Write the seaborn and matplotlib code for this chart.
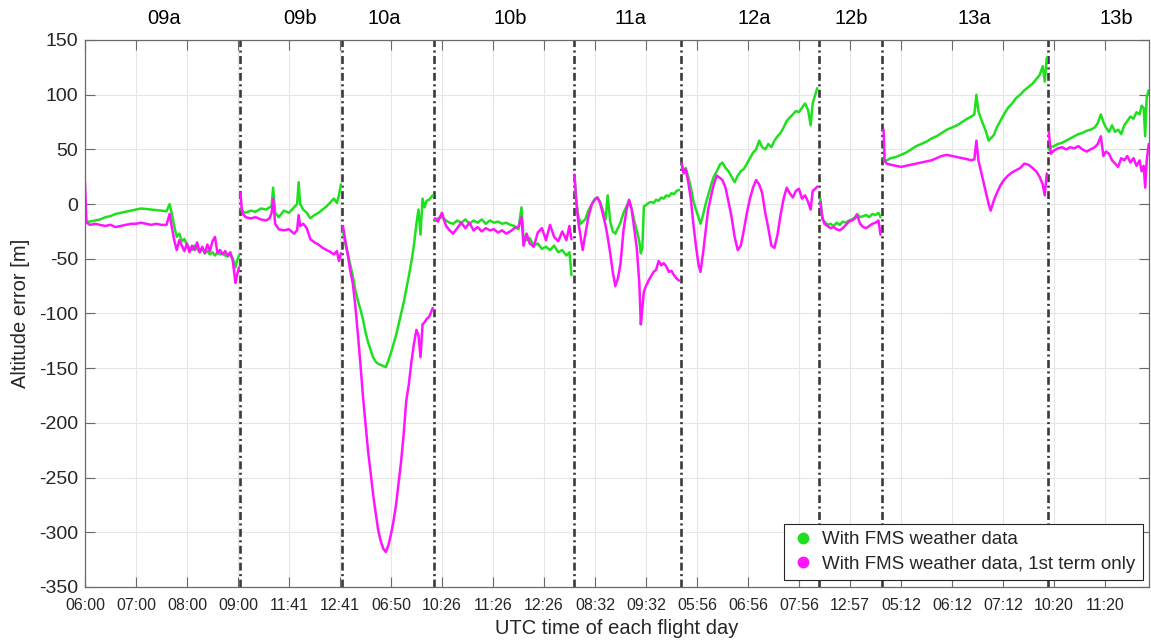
import numpy as np
import pandas as pd
import matplotlib
matplotlib.use("Agg")
import matplotlib.pyplot as plt
from matplotlib.lines import Line2D
from matplotlib.transforms import blended_transform_factory
import seaborn as sns

# ---------------------------------------------------------------------------
# Data: elapsed flight hours (all flight days concatenated) and altitude error
# ---------------------------------------------------------------------------
flight_names = ["09a", "09b", "10a", "10b", "11a", "12a", "12b", "13a", "13b"]
flight_edges = [3.04, 5.04, 6.84, 9.58, 11.69, 14.40, 15.63, 18.88]
tick_labels = ["06:00", "07:00", "08:00", "09:00", "11:41", "12:41", "06:50",
               "10:26", "11:26", "12:26", "08:32", "09:32", "05:56", "06:56",
               "07:56", "12:57", "05:12", "06:12", "07:12", "10:20", "11:20"]
series_names = ["With FMS weather data", "With FMS weather data, 1st term only"]

t_09a = [0.00, 0.03, 0.10, 0.20, 0.30, 0.40, 0.50, 0.60, 0.70, 0.80, 0.90, 1.00,
         1.10, 1.20, 1.30, 1.40, 1.50, 1.60, 1.66, 1.70, 1.75, 1.80, 1.85, 1.90,
         1.95, 2.00, 2.05, 2.10, 2.15, 2.20, 2.25, 2.30, 2.35, 2.40, 2.45, 2.50,
         2.55, 2.60, 2.65, 2.70, 2.75, 2.80, 2.85, 2.90, 2.95, 2.98, 3.02]
g_09a = [-17, -16, -16, -15, -14, -12, -11, -9, -8, -7, -6, -5,
         -4, -4.5, -5, -5.5, -6, -6.5, 0, -8, -20, -30, -27, -34,
         -32, -37, -40, -42, -38, -41, -44, -40, -45, -43, -46, -44,
         -47, -44, -46, -45, -47, -48, -46, -50, -58, -52, -47]
m_09a = [20, -17, -19, -18, -19, -20, -19, -21, -20, -19, -18, -18,
         -17, -18, -19, -18, -19, -19, -9, -20, -33, -42, -33, -38,
         -43, -36, -44, -38, -42, -35, -44, -39, -45, -37, -43, -34,
         -30, -45, -42, -46, -43, -47, -44, -52, -72, -65, -58]

t_09b = [3.05, 3.08, 3.15, 3.25, 3.35, 3.45, 3.55, 3.62, 3.66, 3.69, 3.73, 3.80,
         3.90, 4.00, 4.10, 4.16, 4.19, 4.22, 4.28, 4.35, 4.42, 4.50, 4.58, 4.66,
         4.74, 4.82, 4.88, 4.94, 4.98, 5.02]
g_09b = [-4, -6, -8, -6, -7, -4, -5, -3, -2, 15, -8, -12,
         -6, -8, -3, 0, 20, 0, -5, -8, -13, -10, -8, -5,
         -2, 2, 5, 1, 8, 18]
m_09b = [10, -8, -12, -13, -12, -14, -15, -13, -8, 5, -18, -23,
         -24, -23, -27, -24, -10, -20, -18, -22, -32, -35, -37, -40,
         -42, -44, -46, -43, -52, -45]

t_10a = [5.06, 5.10, 5.15, 5.20, 5.25, 5.30, 5.35, 5.40, 5.45, 5.50, 5.55, 5.60,
         5.65, 5.70, 5.75, 5.80, 5.85, 5.90, 5.95, 6.00, 6.05, 6.10, 6.15, 6.20,
         6.25, 6.30, 6.35, 6.40, 6.45, 6.50, 6.54, 6.58, 6.62, 6.66, 6.70, 6.75,
         6.82]
g_10a = [-25, -35, -45, -55, -65, -78, -88, -96, -105, -117, -126, -133,
         -140, -144, -146, -147, -148, -149, -143, -136, -128, -120, -110, -100,
         -90, -78, -66, -53, -38, -18, -5, -28, 5, -3, 3, 4,
         8]
m_10a = [-20, -32, -45, -60, -72, -92, -118, -145, -175, -200, -225, -245,
         -265, -282, -298, -308, -315, -318, -312, -302, -290, -275, -255, -235,
         -210, -180, -165, -145, -128, -115, -120, -140, -110, -108, -105, -103,
         -95]

t_10b = [6.86, 6.92, 7.00, 7.08, 7.15, 7.22, 7.30, 7.38, 7.46, 7.54, 7.62, 7.70,
         7.78, 7.86, 7.94, 8.02, 8.10, 8.18, 8.26, 8.34, 8.42, 8.50, 8.56, 8.60,
         8.66, 8.72, 8.80, 8.88, 8.96, 9.04, 9.12, 9.20, 9.28, 9.36, 9.44, 9.50,
         9.54]
g_10b = [-15, -13, -12, -15, -17, -18, -15, -17, -14, -18, -15, -17,
         -14, -18, -15, -17, -16, -18, -17, -19, -20, -23, -3, -30,
         -33, -31, -38, -36, -41, -39, -42, -38, -44, -42, -47, -44,
         -65]
m_10b = [-13, -16, -8, -20, -24, -27, -22, -17, -22, -17, -24, -21,
         -25, -22, -24, -23, -26, -24, -27, -25, -22, -21, -12, -38,
         -27, -36, -39, -26, -22, -33, -19, -30, -34, -25, -33, -20,
         -32]

t_11a = [9.60, 9.63, 9.67, 9.72, 9.76, 9.81, 9.87, 9.94, 10.00, 10.05, 10.10, 10.15,
         10.21, 10.25, 10.30, 10.35, 10.40, 10.45, 10.50, 10.56, 10.62, 10.67, 10.72,
         10.77, 10.82, 10.87, 10.90, 10.93, 10.96, 11.00, 11.05, 11.10, 11.15, 11.20,
         11.25, 11.30, 11.35, 11.40, 11.45, 11.50, 11.55, 11.60, 11.65]
g_11a = [25, 5, -10, -18, -16, -14, -6, 0, 5, 6, 2, -5,
         -14, 8, -16, -25, -27, -22, -17, -8, -2, 3, -4,
         -15, -24, -34, -45, -40, -2, -1, 1, 2, 1, 4,
         3, 6, 5, 8, 7, 10, 9, 12, 13]
m_11a = [27, 5, -15, -30, -42, -28, -12, 0, 4, 6, 1, -8,
         -20, -30, -45, -62, -75, -68, -55, -24, -5, 4, -5,
         -22, -40, -72, -110, -95, -80, -75, -70, -66, -62, -60,
         -52, -56, -54, -57, -62, -61, -65, -68, -70]

t_12a = [11.70, 11.74, 11.78, 11.83, 11.88, 11.93, 11.98, 12.03, 12.07, 12.12, 12.17,
         12.22, 12.28, 12.33, 12.39, 12.45, 12.50, 12.56, 12.62, 12.68, 12.74, 12.80,
         12.86, 12.92, 12.98, 13.04, 13.10, 13.16, 13.22, 13.28, 13.34, 13.40, 13.46,
         13.52, 13.58, 13.64, 13.70, 13.76, 13.82, 13.88, 13.94, 14.00, 14.06, 14.12,
         14.18, 14.23, 14.27, 14.32, 14.36]
g_12a = [37, 30, 33, 25, 15, 3, -5, -12, -18, -10, 0,
         8, 18, 25, 30, 36, 38, 33, 30, 25, 20, 26,
         30, 32, 37, 42, 47, 50, 58, 52, 50, 55, 52,
         58, 62, 65, 70, 76, 79, 82, 85, 84, 88, 92,
         86, 72, 92, 100, 106]
m_12a = [37, 28, 32, 20, 5, -18, -38, -55, -62, -45, -25,
         -5, 8, 18, 26, 24, 22, 15, 2, -12, -30, -42,
         -38, -24, -8, 5, 15, 22, 18, 10, -8, -22, -38,
         -40, -28, -10, 5, 15, 10, 6, 12, 14, 5, 8,
         2, -5, 12, 14, 16]

t_12b = [14.42, 14.46, 14.50, 14.56, 14.62, 14.68, 14.74, 14.80, 14.86, 14.92, 14.98,
         15.04, 15.10, 15.14, 15.20, 15.26, 15.32, 15.38, 15.44, 15.50, 15.56, 15.60]
g_12b = [5, -14, -16, -19, -18, -20, -17, -19, -16, -17, -15,
         -14, -12, -9, -12, -11, -10, -12, -9, -10, -8, -12]
m_12b = [2, -12, -18, -20, -22, -21, -23, -24, -22, -19, -16,
         -15, -13, -10, -18, -21, -22, -20, -18, -17, -15, -28]

t_13a = [15.66, 15.68, 15.72, 15.80, 15.90, 16.00, 16.10, 16.20, 16.30, 16.40, 16.50,
         16.60, 16.70, 16.80, 16.90, 17.00, 17.10, 17.20, 17.30, 17.38, 17.44, 17.48,
         17.52, 17.57, 17.62, 17.67, 17.72, 17.76, 17.82, 17.88, 17.95, 18.02, 18.10,
         18.18, 18.26, 18.34, 18.42, 18.50, 18.58, 18.65, 18.72, 18.78, 18.82, 18.86]
g_13a = [42, 39, 40, 42, 43, 45, 47, 50, 53, 55, 57,
         60, 62, 65, 68, 70, 72, 75, 78, 80, 82, 100,
         85, 78, 72, 66, 58, 60, 63, 70, 76, 82, 88,
         92, 97, 100, 104, 107, 110, 114, 118, 126, 112, 134]
m_13a = [68, 40, 37, 36, 35, 34, 35, 36, 37, 38, 39,
         40, 42, 44, 45, 44, 43, 42, 41, 40, 41, 58,
         40, 30, 20, 10, 0, -6, 3, 10, 17, 22, 26,
         29, 31, 33, 37, 36, 33, 30, 25, 18, 8, 28]

t_13b = [18.90, 18.94, 19.00, 19.08, 19.16, 19.24, 19.32, 19.40, 19.48, 19.56, 19.64,
         19.72, 19.80, 19.86, 19.92, 19.97, 20.02, 20.08, 20.14, 20.20, 20.26, 20.32,
         20.38, 20.44, 20.50, 20.56, 20.62, 20.68, 20.72, 20.76, 20.79, 20.82, 20.86]
g_13b = [50, 52, 53, 55, 56, 58, 60, 62, 64, 65, 67,
         68, 70, 74, 82, 75, 70, 66, 72, 66, 68, 64,
         72, 76, 80, 78, 84, 82, 90, 88, 62, 98, 104]
m_13b = [66, 46, 49, 51, 52, 50, 52, 51, 53, 50, 48,
         50, 52, 55, 62, 44, 48, 46, 40, 37, 34, 42,
         40, 44, 38, 42, 35, 40, 30, 35, 15, 40, 55]

flights = {
    "09a": (t_09a, g_09a, m_09a), "09b": (t_09b, g_09b, m_09b),
    "10a": (t_10a, g_10a, m_10a), "10b": (t_10b, g_10b, m_10b),
    "11a": (t_11a, g_11a, m_11a), "12a": (t_12a, g_12a, m_12a),
    "12b": (t_12b, g_12b, m_12b), "13a": (t_13a, g_13a, m_13a),
    "13b": (t_13b, g_13b, m_13b),
}

frames = []
for name in flight_names:
    t, g, m = flights[name]
    for label, vals in zip(series_names, (g, m)):
        frames.append(pd.DataFrame({"hour": t, "error": vals,
                                    "series": label, "flight": name}))
df = pd.concat(frames, ignore_index=True)

# ---------------------------------------------------------------------------
# Figure
# ---------------------------------------------------------------------------
sns.set_style("ticks")
plt.rcParams["font.family"] = ["Liberation Sans", "DejaVu Sans"]
plt.rcParams["axes.unicode_minus"] = False

GREEN = "#1fe01f"
MAGENTA = "#ff14ff"
TXT = "#262626"

fig = plt.figure(figsize=(11.51, 6.42), dpi=100)
ax = fig.add_axes([0.0738, 0.0857, 0.9247, 0.852])

for e in flight_edges:
    ax.axvline(e, color="#3a3a3a", lw=1.9, ls=(0, (3.0, 1.3, 0.8, 1.3)), zorder=1)

sns.lineplot(data=df, x="hour", y="error", hue="series", units="flight",
             estimator=None, sort=False, palette=[GREEN, MAGENTA],
             hue_order=series_names, lw=1.8, legend=False, ax=ax, zorder=2)

ax.set_xlim(0, 20.87)
ax.set_ylim(-350, 150)
ax.set_xticks(np.arange(len(tick_labels)))
ax.set_xticklabels(tick_labels)
ax.set_yticks(np.arange(-350, 151, 50))

ax.grid(True, color="#e6e6e6", lw=0.8)
ax.set_axisbelow(True)
for sp in ax.spines.values():
    sp.set_visible(True)
    sp.set_color("#6a6a6a")
    sp.set_linewidth(0.9)
ax.tick_params(axis="both", direction="in", top=True, right=True,
               length=7, width=0.8, color="#6a6a6a", labelcolor=TXT)
ax.tick_params(axis="x", labelsize=11.5, pad=8)
ax.tick_params(axis="y", labelsize=14, pad=5)

ax.set_xlabel("UTC time of each flight day", fontsize=14.5, color=TXT)
ax.set_ylabel("Altitude error [m]", fontsize=14.5, color=TXT)
ax.xaxis.set_label_coords(0.5, -0.058)
ax.yaxis.set_label_coords(-0.052, 0.5)

label_pos = [1.55, 4.21, 5.86, 8.33, 10.70, 13.12, 15.02, 17.43, 20.22]
trans = blended_transform_factory(ax.transData, ax.transAxes)
for name, x in zip(flight_names, label_pos):
    ax.text(x, 1.04, name, transform=trans, ha="center", va="center",
            fontsize=14.5, color="black")

handles = [Line2D([0], [0], marker="o", ls="none", color=c, markersize=7.5)
           for c in (GREEN, MAGENTA)]
leg = ax.legend(handles, series_names, loc="lower right", fontsize=13.5,
                frameon=True, fancybox=False, edgecolor="#262626",
                framealpha=1, handletextpad=0.4, handlelength=1.2,
                borderpad=0.4, labelspacing=0.4, borderaxespad=0.35)
leg.get_frame().set_linewidth(0.8)

fig.savefig("out.png", dpi=100)
